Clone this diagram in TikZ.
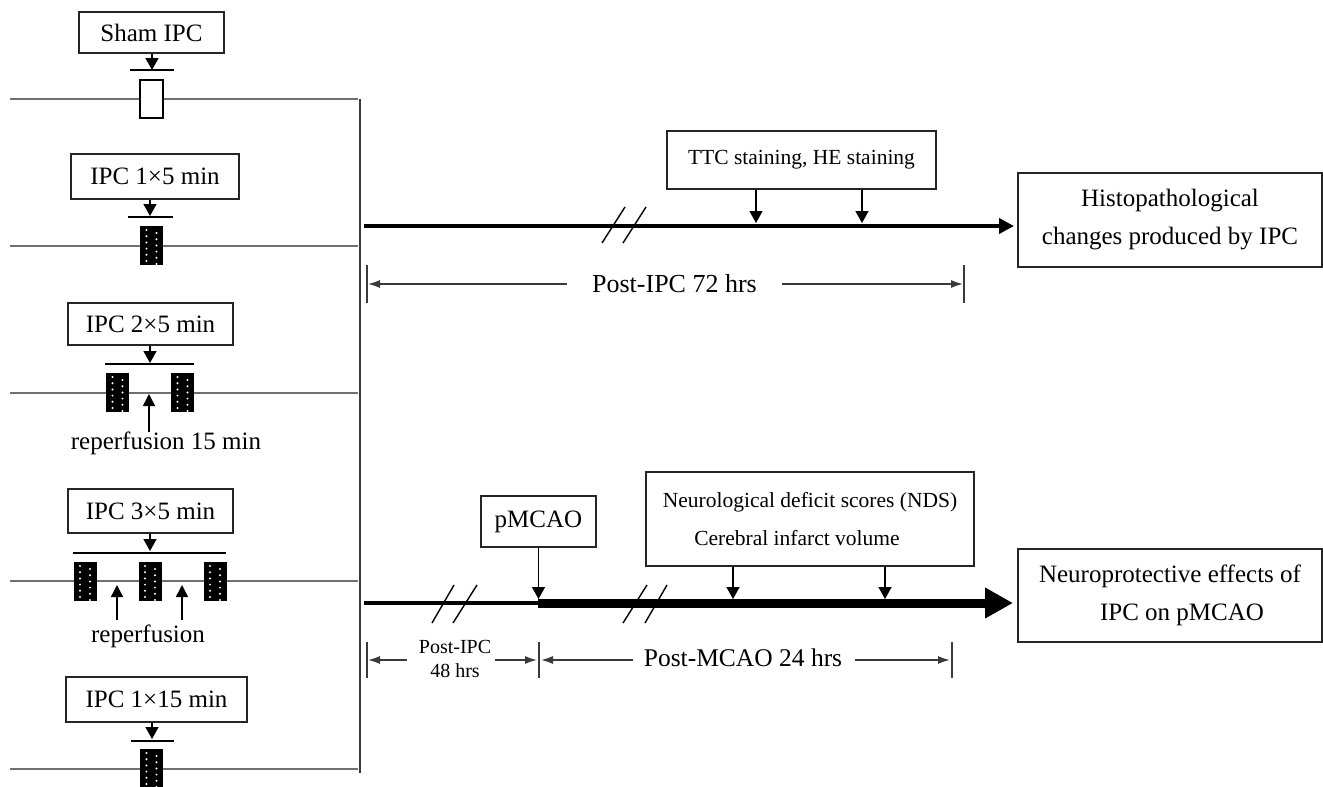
\documentclass[tikz,border=0pt]{standalone}
\usepackage{fontspec}
\setmainfont{Liberation Serif}
\usetikzlibrary{arrows.meta}
\definecolor{gline}{HTML}{707070}
\definecolor{dline}{HTML}{3A3A3A}
\newcommand{\dotblk}[3]{%
  \fill[black] ({#1-11.5},#2) rectangle ({#1+11.5},#3);
  \foreach \k in {0,...,5}{
    \fill[white] ({#1-5},{#2+4+\k*6.2}) circle (1.1);
    \fill[white] ({#1+5},{#2+7+\k*6.2}) circle (1.1);
  }
}
\begin{document}
\begin{tikzpicture}[x=1pt,y=-1pt,
  box/.style={draw=black!85, line width=1.4pt, inner sep=0pt, align=center, font=\fontsize{25}{38}\selectfont},
  lbl/.style={inner sep=0pt, align=center, font=\fontsize{25}{30}\selectfont},
  downarr/.style={draw=black, line width=1.4pt, -{Triangle[length=12pt,width=13pt]}},
  uparr/.style={draw=black, line width=1.4pt, -{Triangle[length=12pt,width=12pt]}},
  bar/.style={draw=black, line width=1.6pt},
  grp/.style={draw=gline, line width=2pt},
  slash/.style={draw=black, line width=1.4pt},
  tickln/.style={draw=dline, line width=1.6pt},
  dimarr/.style={draw=dline, line width=1.6pt, -{Latex[length=12pt,width=8pt]}}
]
\useasboundingbox (0,0) rectangle (1323,787);
\fill[white] (0,0) rectangle (1323,787);

% ---------- left groups ----------
% Sham IPC
\draw[grp] (10,99) -- (358,99);
\node[box, minimum width=145, minimum height=41] (sham) at (151.5,32.5) {Sham IPC};
\coordinate (b1) at (152,70);
\draw[bar] (130,70) -- (174,70);
\draw[downarr] (sham.south -| b1) -- (b1);
\filldraw[draw=black, fill=white, line width=1.4pt] (140,80) rectangle (163,118);

% IPC 1x5
\draw[grp] (10,246) -- (358,246);
\node[box, minimum width=168, minimum height=45] (g2) at (155,176.5) {IPC 1×5 min};
\coordinate (b2) at (150,216);
\draw[bar] (128,217) -- (173,217);
\draw[downarr] (g2.south -| b2) -- (b2);
\dotblk{151.5}{226}{265}

% IPC 2x5
\draw[grp] (10,393) -- (358,393);
\node[box, minimum width=165, minimum height=42] (g3) at (150.5,324) {IPC 2×5 min};
\coordinate (b3) at (150,363);
\draw[bar] (105,364) -- (194,364);
\draw[downarr] (g3.south -| b3) -- (b3);
\dotblk{117.5}{373}{412}
\dotblk{182.5}{373}{412}
\node[lbl] (rep1) at (166,443) {reperfusion 15 min};
\coordinate (r1a) at (149,432);
\coordinate (r1b) at (149,394);
\draw[uparr] (r1a) -- (r1b);

% IPC 3x5
\draw[grp] (10,581) -- (358,581);
\node[box, minimum width=165, minimum height=44] (g4) at (150.5,511) {IPC 3×5 min};
\coordinate (b4) at (150,551);
\draw[bar] (73,553) -- (226,553);
\draw[downarr] (g4.south -| b4) -- (b4);
\dotblk{85}{562}{601}
\dotblk{150}{562}{601}
\dotblk{215}{562}{601}
\node[lbl] (rep2) at (148,636) {reperfusion};
\coordinate (r2a) at (117,620);
\coordinate (r2b) at (117,585);
\coordinate (r3a) at (182,620);
\coordinate (r3b) at (182,585);
\draw[uparr] (r2a) -- (r2b);
\draw[uparr] (r3a) -- (r3b);

% IPC 1x15
\draw[grp] (10,769) -- (358,769);
\node[box, minimum width=181, minimum height=45] (g5) at (156.5,699.5) {IPC 1×15 min};
\coordinate (b5) at (152,739);
\draw[bar] (131,741) -- (174,741);
\draw[downarr] (g5.south -| b5) -- (b5);
\dotblk{151.5}{749}{787}

% vertical joining line
\draw[draw=dline, line width=2pt] (359.5,99) -- (359.5,773);

% ---------- upper timeline ----------
\node[box, minimum width=304, minimum height=94] (hist) at (1170,220) {Histopathological\\changes produced by IPC};
\coordinate (u0) at (364,226);
\coordinate (u1) at (1014,226);
\draw[line width=4pt, -{Triangle[length=15pt,width=15pt]}] (u0) -- (u1);
\draw[slash] (602,243) -- (625,207);
\draw[slash] (623,243) -- (646,207);
\node[box, minimum width=269, minimum height=58, font=\fontsize{21.5}{26}\selectfont] (ttc) at (801.5,160) {TTC staining, HE staining};
\coordinate (t1) at (756,223);
\coordinate (t2) at (862,223);
\draw[downarr] (ttc.south -| t1) -- (t1);
\draw[downarr] (ttc.south -| t2) -- (t2);
% dimension 72 hrs
\coordinate (k1a) at (367,265); \coordinate (k1b) at (367,303);
\coordinate (k2a) at (964,265); \coordinate (k2b) at (964,303);
\draw[tickln] (k1a) -- (k1b);
\draw[tickln] (k2a) -- (k2b);
\node[lbl, font=\fontsize{26}{30}\selectfont] (d72) at (674.5,284) {Post-IPC 72 hrs};
\coordinate (d72l) at (567,284);
\coordinate (d72r) at (782,284);
\draw[dimarr] (d72l) -- (368,284);
\draw[dimarr] (d72r) -- (963,284);

% ---------- lower timeline ----------
\node[box, minimum width=304, minimum height=93] (neuro) at (1170,595.5) {Neuroprotective effects of\\\hspace*{24pt}IPC on pMCAO};
\coordinate (l0) at (364,603);
\coordinate (lm) at (538,603);
\coordinate (l1) at (1013,603);
\draw[line width=3.5pt] (l0) -- (lm);
\draw[line width=9pt, -{Triangle[length=28pt,width=29pt]}] (lm) -- (l1);
\draw[slash] (432,623) -- (454,585);
\draw[slash] (453,623) -- (477,585);
\draw[slash] (623,623) -- (647,585);
\draw[slash] (645,623) -- (667,585);
\node[box, minimum width=115, minimum height=51] (pm) at (538.5,521.5) {pMCAO};
\coordinate (p1) at (538.5,599);
\draw[downarr] (pm.south -| p1) -- (p1);
\node[box, minimum width=328, minimum height=94, font=\fontsize{21.5}{38}\selectfont] (nds) at (810,519) {Neurological deficit scores (NDS)\\\hspace*{-26pt}Cerebral infarct volume};
\coordinate (n1) at (733,599);
\coordinate (n2) at (885,599);
\draw[downarr] (nds.south -| n1) -- (n1);
\draw[downarr] (nds.south -| n2) -- (n2);
% dimensions lower
\coordinate (m1a) at (367,642); \coordinate (m1b) at (367,678);
\coordinate (m2a) at (539,642); \coordinate (m2b) at (539,678);
\coordinate (m3a) at (952,642); \coordinate (m3b) at (952,678);
\draw[tickln] (m1a) -- (m1b);
\draw[tickln] (m2a) -- (m2b);
\draw[tickln] (m3a) -- (m3b);
\node[lbl, font=\fontsize{20}{24}\selectfont] (d48) at (455,659) {Post-IPC\\48 hrs};
\coordinate (d48l) at (407,660);
\coordinate (d48r) at (495,660);
\draw[dimarr] (d48l) -- (368,660);
\draw[dimarr] (d48r) -- (537,660);
\node[lbl, font=\fontsize{25.5}{30}\selectfont] (d24) at (743,658) {Post-MCAO 24 hrs};
\coordinate (d24l) at (633,660);
\coordinate (d24r) at (855,660);
\draw[dimarr] (d24l) -- (541,660);
\draw[dimarr] (d24r) -- (950,660);
\end{tikzpicture}
\end{document}
